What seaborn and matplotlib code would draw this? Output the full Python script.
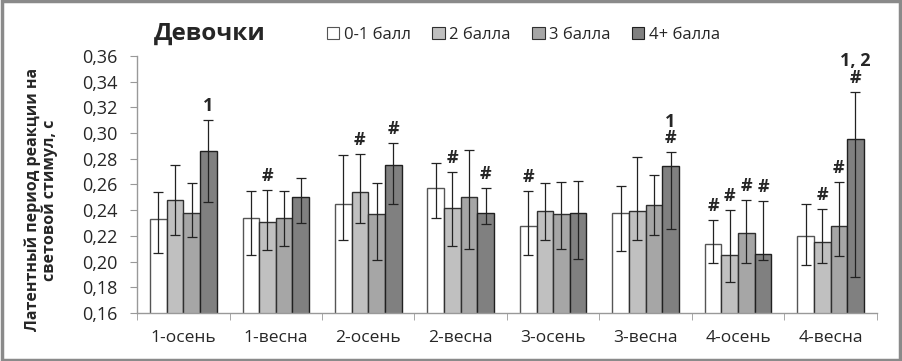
import seaborn as sns
import pandas as pd
import matplotlib.pyplot as plt
from matplotlib.patches import Patch, Rectangle
from matplotlib.ticker import FuncFormatter, FixedLocator

# данные
cats = ['1-осень', '1-весна', '2-осень', '2-весна', '3-осень', '3-весна', '4-осень', '4-весна']
groups = ['0-1 балл', '2 балла', '3 балла', '4+ балла']

b01 = [0.233, 0.234, 0.245, 0.257, 0.228, 0.238, 0.214, 0.220]
b2 = [0.248, 0.231, 0.254, 0.242, 0.239, 0.239, 0.205, 0.215]
b3 = [0.238, 0.234, 0.237, 0.250, 0.237, 0.244, 0.222, 0.228]
b4 = [0.286, 0.250, 0.275, 0.238, 0.238, 0.274, 0.206, 0.295]

# нижняя / верхняя граница усов
lo01 = [0.207, 0.205, 0.217, 0.234, 0.205, 0.208, 0.199, 0.197]
hi01 = [0.254, 0.255, 0.283, 0.277, 0.255, 0.259, 0.232, 0.245]
lo2 = [0.221, 0.209, 0.230, 0.212, 0.217, 0.217, 0.184, 0.199]
hi2 = [0.275, 0.256, 0.284, 0.270, 0.261, 0.281, 0.240, 0.241]
lo3 = [0.219, 0.212, 0.201, 0.210, 0.210, 0.221, 0.199, 0.204]
hi3 = [0.261, 0.255, 0.261, 0.287, 0.262, 0.267, 0.248, 0.262]
lo4 = [0.246, 0.230, 0.245, 0.229, 0.202, 0.225, 0.201, 0.188]
hi4 = [0.310, 0.265, 0.292, 0.257, 0.263, 0.285, 0.247, 0.332]

# пометки значимости: (категория, номер группы, текст)
marks = [('1-осень', 3, '1'), ('1-весна', 1, '#'), ('2-осень', 1, '#'), ('2-осень', 3, '#'),
         ('2-весна', 1, '#'), ('2-весна', 3, '#'), ('3-осень', 0, '#'), ('3-весна', 3, '1\n#'),
         ('4-осень', 0, '#'), ('4-осень', 1, '#'), ('4-осень', 2, '#'), ('4-осень', 3, '#'),
         ('4-весна', 1, '#'), ('4-весна', 2, '#'), ('4-весна', 3, '1, 2\n#')]

colors = ['#ffffff', '#c0c0c0', '#a6a6a6', '#808080']
edges = ['#555555', '#303030', '#303030', '#202020']

vals = [b01, b2, b3, b4]
los = [lo01, lo2, lo3, lo4]
his = [hi01, hi2, hi3, hi4]

rows = []
for g, v in zip(groups, vals):
    for c, x in zip(cats, v):
        rows.append({'cat': c, 'group': g, 'val': x})
df = pd.DataFrame(rows)

sns.set_style('white')
plt.rcParams['font.family'] = ['Open Sans', 'DejaVu Sans']

fig = plt.figure(figsize=(9.02, 3.61), dpi=100)
ax = fig.add_axes([0.152, 0.133, 0.82, 0.712])

sns.barplot(data=df, x='cat', y='val', hue='group', order=cats, hue_order=groups,
            palette=colors, width=0.72, gap=0, errorbar=None, legend=False, ax=ax)

bars = list(ax.containers[:4])
for i, cont in enumerate(bars):
    for j, bar in enumerate(cont):
        bar.set_edgecolor(edges[i])
        bar.set_linewidth(1.0)
        xc = bar.get_x() + bar.get_width() / 2
        v = vals[i][j]
        ax.errorbar(xc, v, yerr=[[v - los[i][j]], [his[i][j] - v]], fmt='none',
                    ecolor='#222222', elinewidth=0.9, capsize=3.5, capthick=0.9, zorder=5)

for c, i, t in marks:
    j = cats.index(c)
    bar = bars[i][j]
    xc = bar.get_x() + bar.get_width() / 2
    ax.annotate(t, (xc, his[i][j]), xytext=(0, 5), textcoords='offset pixels',
                ha='center', va='bottom', fontsize=13, fontweight='bold', linespacing=0.9)

ax.set_ylim(0.16, 0.36)
ax.set_xlim(-0.5, len(cats) - 0.5)
ax.yaxis.set_major_locator(FixedLocator([0.16 + 0.02 * k for k in range(11)]))
ax.yaxis.set_major_formatter(FuncFormatter(lambda y, p: f'{y:.2f}'.replace('.', ',')))
ax.set_xticks(range(len(cats)))
ax.set_xticklabels(cats)
ax.set_xticks([k - 0.5 for k in range(len(cats) + 1)], minor=True)
ax.tick_params(axis='x', which='major', length=0, pad=12, labelsize=12.5)
ax.tick_params(axis='x', which='minor', length=5, direction='out', color='#999999', bottom=True)
ax.tick_params(axis='y', length=5, direction='out', color='#999999', left=True, labelsize=13, pad=9)
ax.set_xlabel('')
ax.set_ylabel('Латентный период реакции на\nсветовой стимул, с', fontsize=11.5,
              fontweight='bold', linespacing=1.05)
ax.yaxis.set_label_coords(-0.107, 0.44)
for s in ['top', 'right']:
    ax.spines[s].set_visible(False)
for s in ['left', 'bottom']:
    ax.spines[s].set_color('#999999')
    ax.spines[s].set_linewidth(1)

fig.text(0.171, 0.905, 'Девочки', fontsize=17.5, fontweight='bold', va='center', ha='left')

handles = [Patch(facecolor=colors[k], edgecolor=edges[k], linewidth=0.8) for k in range(4)]
fig.legend(handles, groups, loc='center left', bbox_to_anchor=(0.355, 0.903), ncol=4,
           frameon=False, fontsize=12, handlelength=0.75, handleheight=0.75,
           handletextpad=0.25, columnspacing=1.3, borderaxespad=0)

fig.patches.append(Rectangle((0.002, 0.003), 0.996, 0.994, transform=fig.transFigure,
                             fill=False, edgecolor='#8a8a8a', linewidth=2.5))

plt.savefig('out.png', dpi=100)
